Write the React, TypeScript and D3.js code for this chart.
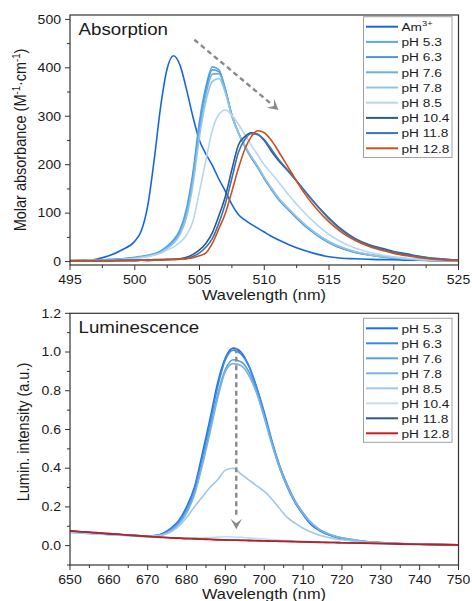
import React from 'react';
import * as d3 from 'd3';

// horizontal stretch of the source figure's text
const SX = 1.17;
const FONT = 'Liberation Sans, Arial, sans-serif';
const INK = '#1a1a1a';

// ---- absorption panel ----
const absWl = [495, 496, 497, 498, 499, 500, 500.5, 501, 501.5, 502, 502.5, 503, 503.5, 504, 504.5, 505, 505.5, 506, 506.5, 507, 507.5, 508, 508.5, 509, 509.5, 510, 510.5, 511, 512, 513, 514, 515, 516, 517, 518, 519, 520, 521, 522, 523, 524, 525];
const absAm = [1, 2, 5, 12, 24, 42, 63, 115, 210, 320, 398, 425, 405, 355, 298, 250, 222, 198, 170, 145, 118, 97, 86, 77, 69, 61, 53, 46, 34, 24, 16, 10, 7, 6, 5, 4, 4, 3, 3, 2, 2, 2];
const absPh53 = [2, 2, 3, 4, 6, 9, 11, 13, 16, 22, 32, 45, 66, 110, 185, 290, 362, 402, 396, 356, 302, 266, 238, 215, 195, 172, 152, 133, 104, 78, 57, 40, 28, 20, 14, 10, 8, 6, 4, 3, 3, 2];
const absPh63 = [2, 3, 3, 4, 6, 8, 10, 12, 15, 21, 30, 43, 63, 104, 178, 282, 356, 396, 392, 354, 302, 266, 238, 214, 194, 171, 151, 132, 103, 77, 56, 39, 27, 19, 14, 10, 7, 5, 4, 3, 2, 2];
const absPh76 = [1, 2, 3, 4, 5, 8, 10, 12, 15, 20, 29, 41, 60, 100, 170, 272, 346, 387, 388, 352, 302, 267, 240, 216, 196, 173, 153, 134, 105, 79, 58, 41, 29, 20, 15, 11, 8, 6, 4, 3, 2, 2];
const absPh78 = [2, 2, 3, 3, 5, 7, 9, 11, 14, 19, 27, 38, 56, 92, 160, 258, 332, 372, 378, 348, 300, 266, 240, 217, 197, 174, 154, 135, 106, 80, 58, 41, 29, 21, 15, 11, 8, 6, 4, 3, 2, 2];
const absPh85 = [1, 2, 2, 3, 4, 6, 8, 10, 13, 17, 24, 30, 40, 55, 84, 145, 210, 272, 304, 313, 302, 284, 262, 240, 220, 200, 184, 168, 134, 104, 78, 56, 40, 28, 20, 14, 10, 7, 5, 4, 3, 2];
const absPh104 = [1, 1, 2, 2, 2, 3, 3, 3, 4, 4, 5, 5, 6, 9, 15, 24, 38, 60, 95, 135, 190, 240, 258, 266, 263, 250, 230, 212, 182, 150, 118, 90, 66, 48, 36, 28, 21, 16, 11, 7, 5, 3];
const absPh118 = [1, 2, 1, 2, 3, 2, 3, 4, 3, 4, 4, 5, 5, 6, 11, 18, 30, 48, 80, 120, 172, 225, 252, 264, 262, 252, 234, 215, 183, 150, 118, 88, 64, 46, 34, 26, 19, 14, 10, 7, 5, 3];
const absPh128 = [2, 1, 2, 1, 2, 2, 3, 2, 3, 3, 4, 4, 5, 6, 8, 12, 18, 38, 68, 100, 145, 192, 232, 258, 270, 266, 252, 232, 188, 145, 110, 82, 60, 44, 32, 24, 17, 12, 8, 5, 3, 2];

const absNames = ['Am3+', 'pH 5.3', 'pH 6.3', 'pH 7.6', 'pH 7.8', 'pH 8.5', 'pH 10.4', 'pH 11.8', 'pH 12.8'];
const absColors = ['#1666e4', '#5aa8ec', '#4b96dc', '#6ab0e4', '#92c4ea', '#b6d7f0', '#2c5a8c', '#3b74b4', '#cf4f1c'];
const absSeries = [absAm, absPh53, absPh63, absPh76, absPh78, absPh85, absPh104, absPh118, absPh128];
const absXTicks = [495, 500, 505, 510, 515, 520, 525];
const absXMinor = [497.5, 502.5, 507.5, 512.5, 517.5, 522.5];
const absYTicks = [0, 100, 200, 300, 400, 500];
const absYMinor = [50, 150, 250, 350, 450];
const absArrow = [[504.6, 458], [511.1, 313]];

// ---- luminescence panel ----
const lumWl = [650, 655, 660, 665, 670, 672, 674, 676, 678, 680, 682, 684, 686, 688, 690, 692, 694, 696, 698, 700, 702, 704, 706, 708, 710, 712, 714, 716, 718, 720, 725, 730, 735, 740, 745, 750];
const lumPh53 = [0.078, 0.068, 0.062, 0.055, 0.05, 0.052, 0.064, 0.09, 0.13, 0.2, 0.3, 0.47, 0.65, 0.84, 0.97, 1.02, 1.0, 0.93, 0.82, 0.68, 0.53, 0.4, 0.3, 0.22, 0.16, 0.11, 0.08, 0.06, 0.046, 0.036, 0.022, 0.015, 0.01, 0.007, 0.005, 0.004];
const lumPh63 = [0.072, 0.066, 0.06, 0.054, 0.05, 0.052, 0.062, 0.086, 0.125, 0.19, 0.29, 0.45, 0.63, 0.82, 0.96, 1.01, 0.99, 0.93, 0.82, 0.69, 0.54, 0.41, 0.31, 0.225, 0.165, 0.115, 0.083, 0.062, 0.048, 0.038, 0.023, 0.015, 0.011, 0.008, 0.006, 0.004];
const lumPh76 = [0.07, 0.064, 0.058, 0.053, 0.049, 0.05, 0.058, 0.08, 0.115, 0.175, 0.27, 0.42, 0.6, 0.78, 0.91, 0.96, 0.95, 0.9, 0.8, 0.67, 0.53, 0.41, 0.31, 0.23, 0.17, 0.12, 0.087, 0.065, 0.05, 0.04, 0.024, 0.016, 0.011, 0.008, 0.006, 0.004];
const lumPh78 = [0.068, 0.062, 0.057, 0.052, 0.048, 0.049, 0.056, 0.077, 0.11, 0.168, 0.26, 0.41, 0.58, 0.76, 0.9, 0.94, 0.93, 0.88, 0.79, 0.66, 0.52, 0.4, 0.305, 0.225, 0.165, 0.118, 0.085, 0.064, 0.05, 0.04, 0.024, 0.016, 0.011, 0.008, 0.006, 0.004];
const lumPh85 = [0.07, 0.065, 0.06, 0.055, 0.05, 0.05, 0.056, 0.072, 0.1, 0.145, 0.2, 0.25, 0.3, 0.34, 0.39, 0.4, 0.37, 0.34, 0.31, 0.28, 0.24, 0.19, 0.145, 0.115, 0.09, 0.07, 0.055, 0.045, 0.036, 0.03, 0.02, 0.014, 0.01, 0.007, 0.005, 0.004];
const lumPh104 = [0.07, 0.064, 0.058, 0.052, 0.046, 0.044, 0.042, 0.041, 0.04, 0.04, 0.04, 0.041, 0.042, 0.044, 0.046, 0.045, 0.043, 0.04, 0.037, 0.034, 0.031, 0.028, 0.026, 0.024, 0.022, 0.02, 0.018, 0.017, 0.016, 0.015, 0.012, 0.01, 0.008, 0.006, 0.005, 0.004];
const lumPh118 = [0.074, 0.068, 0.061, 0.054, 0.047, 0.045, 0.043, 0.041, 0.039, 0.037, 0.036, 0.034, 0.033, 0.031, 0.03, 0.029, 0.028, 0.027, 0.026, 0.025, 0.024, 0.023, 0.022, 0.021, 0.02, 0.019, 0.018, 0.017, 0.016, 0.015, 0.013, 0.011, 0.008, 0.006, 0.005, 0.003];
const lumPh128 = [0.076, 0.07, 0.062, 0.055, 0.048, 0.045, 0.042, 0.04, 0.038, 0.036, 0.035, 0.033, 0.032, 0.03, 0.029, 0.028, 0.027, 0.026, 0.025, 0.024, 0.023, 0.022, 0.021, 0.02, 0.019, 0.018, 0.017, 0.016, 0.016, 0.015, 0.013, 0.011, 0.009, 0.007, 0.005, 0.004];

const lumNames = ['pH 5.3', 'pH 6.3', 'pH 7.6', 'pH 7.8', 'pH 8.5', 'pH 10.4', 'pH 11.8', 'pH 12.8'];
const lumColors = ['#1c6ee6', '#3a8ae8', '#58a0e0', '#7ab3e2', '#9ec8ea', '#c2dcf0', '#2a5890', '#cc1a1a'];
const lumSeries = [lumPh53, lumPh63, lumPh76, lumPh78, lumPh85, lumPh104, lumPh118, lumPh128];
const lumXTicks = [650, 660, 670, 680, 690, 700, 710, 720, 730, 740, 750];
const lumXMinor = [655, 665, 675, 685, 695, 705, 715, 725, 735, 745];
const lumYTicks = [0, 0.2, 0.4, 0.6, 0.8, 1.0, 1.2];
const lumYMinor = [-0.1, 0.1, 0.3, 0.5, 0.7, 0.9, 1.1];
const lumArrow = [[692.8, 1.02], [692.8, 0.085]];

const Txt = ({ x, y, size, anchor = 'start', rotate = false, children }) => (
  <text
    transform={rotate ? `translate(${x},${y}) rotate(-90) scale(1,${SX})` : `translate(${x},${y}) scale(${SX},1)`}
    fontSize={size}
    textAnchor={anchor}
    fontFamily={FONT}
    fill={INK}
  >
    {children}
  </text>
);

const Arrow = ({ x1, y1, x2, y2 }) => {
  const ang = Math.atan2(y2 - y1, x2 - x1);
  const head = 11;
  const back = [x2 - head * Math.cos(ang), y2 - head * Math.sin(ang)];
  const p = (a, r) => [x2 - r * Math.cos(ang + a), y2 - r * Math.sin(ang + a)];
  const l = p(0.5, head + 1);
  const r = p(-0.5, head + 1);
  const notch = [x2 - head * 0.55 * Math.cos(ang), y2 - head * 0.55 * Math.sin(ang)];
  return (
    <g>
      <line x1={x1} y1={y1} x2={back[0]} y2={back[1]} stroke="#8a8a8a" strokeWidth={2.4} strokeDasharray="5,3.5" />
      <path d={`M${x2},${y2}L${l[0]},${l[1]}L${notch[0]},${notch[1]}L${r[0]},${r[1]}Z`} fill="#8a8a8a" />
    </g>
  );
};

const Panel = ({ x, y, wl, series, colors, names, xTicks, xMinor, yTicks, yMinor, fmtY, title, yTitle, yTitleX, yTitleY, arrow, legendTop, legendStep, superFirst }) => {
  const path = d3.line().x((d) => x(d[0])).y((d) => y(d[1])).curve(d3.curveMonotoneX);
  const [x0, x1] = x.range();
  const [y0, y1] = y.range();
  const legX = 363.5;
  const legW = 88.5;
  const legH = names.length * legendStep + 4;
  return (
    <g>
      <defs>
        <clipPath id={`clip-${title}`}>
          <rect x={x0} y={y1} width={x1 - x0} height={y0 - y1} />
        </clipPath>
      </defs>
      <g clipPath={`url(#clip-${title})`} fill="none">
        {series.map((s, i) => (
          <path key={i} d={path(wl.map((w, j) => [w, s[j]]))} stroke={colors[i]} strokeWidth={1.6} />
        ))}
      </g>
      <Arrow x1={x(arrow[0][0])} y1={y(arrow[0][1])} x2={x(arrow[1][0])} y2={y(arrow[1][1])} />
      <rect x={x0} y={y1} width={x1 - x0} height={y0 - y1} fill="none" stroke="#333" strokeWidth={1.2} />
      {xTicks.map((t) => (
        <g key={t}>
          <line x1={x(t)} x2={x(t)} y1={y0} y2={y0 + 5} stroke="#333" />
          <Txt x={x(t)} y={y0 + 19} size={12} anchor="middle">{t}</Txt>
        </g>
      ))}
      {xMinor.map((t) => (
        <line key={t} x1={x(t)} x2={x(t)} y1={y0} y2={y0 + 3} stroke="#333" />
      ))}
      {yTicks.map((t) => (
        <g key={t}>
          <line x1={x0 - 5} x2={x0} y1={y(t)} y2={y(t)} stroke="#333" />
          <Txt x={61} y={y(t) + 4.3} size={12} anchor="end">{fmtY(t)}</Txt>
        </g>
      ))}
      {yMinor.map((t) => (
        <line key={t} x1={x0 - 3} x2={x0} y1={y(t)} y2={y(t)} stroke="#333" />
      ))}
      <Txt x={x0 + 8.5} y={y1 + 19.5} size={16}>{title}</Txt>
      <Txt x={yTitleX} y={yTitleY} size={14.5} anchor="middle" rotate>{yTitle}</Txt>
      <rect x={legX} y={legendTop} width={legW} height={legH} fill="white" stroke="#a0a0a0" strokeWidth={1} />
      {names.map((n, i) => {
        const cy = legendTop + 10 + i * legendStep;
        return (
          <g key={n}>
            <line x1={366} x2={398} y1={cy} y2={cy} stroke={colors[i]} strokeWidth={2} />
            <Txt x={401.5} y={cy + 4.2} size={11.7}>
              {superFirst && i === 0 ? (
                <>
                  Am<tspan fontSize={8} dy={-4.5}>3+</tspan>
                </>
              ) : (
                n
              )}
            </Txt>
          </g>
        );
      })}
    </g>
  );
};

export default function App() {
  const absX = d3.scaleLinear().domain([495, 525]).range([70, 458.5]);
  const absY = d3.scaleLinear().domain([-7, 509]).range([265, 15]);
  const lumX = d3.scaleLinear().domain([650, 750]).range([70, 458.5]);
  const lumY = d3.scaleLinear().domain([-0.1, 1.2]).range([565, 313.3]);

  return (
    <svg width={472} height={601} style={{ position: 'absolute', left: 0, top: 0, background: 'white' }}>
      <Panel
        x={absX}
        y={absY}
        wl={absWl}
        series={absSeries}
        colors={absColors}
        names={absNames}
        xTicks={absXTicks}
        xMinor={absXMinor}
        yTicks={absYTicks}
        yMinor={absYMinor}
        fmtY={(t) => String(t)}
        title="Absorption"
        yTitle={
          <>
            Molar absorbance (M<tspan fontSize={9.5} dy={-5}>-1</tspan>
            <tspan dy={5}>·cm</tspan>
            <tspan fontSize={9.5} dy={-5}>-1</tspan>
            <tspan dy={5}>)</tspan>
          </>
        }
        yTitleX={26}
        yTitleY={140}
        arrow={absArrow}
        legendTop={16.7}
        legendStep={15.2}
        superFirst
      />
      <Txt x={264} y={299.5} size={14} anchor="middle">Wavelength (nm)</Txt>
      <Panel
        x={lumX}
        y={lumY}
        wl={lumWl}
        series={lumSeries}
        colors={lumColors}
        names={lumNames}
        xTicks={lumXTicks}
        xMinor={lumXMinor}
        yTicks={lumYTicks}
        yMinor={lumYMinor}
        fmtY={(t) => t.toFixed(1)}
        title="Luminescence"
        yTitle="Lumin. intensity (a.u.)"
        yTitleX={29}
        yTitleY={432}
        arrow={lumArrow}
        legendTop={318.3}
        legendStep={15}
        superFirst={false}
      />
      <Txt x={264} y={598.5} size={14} anchor="middle">Wavelength (nm)</Txt>
    </svg>
  );
}
